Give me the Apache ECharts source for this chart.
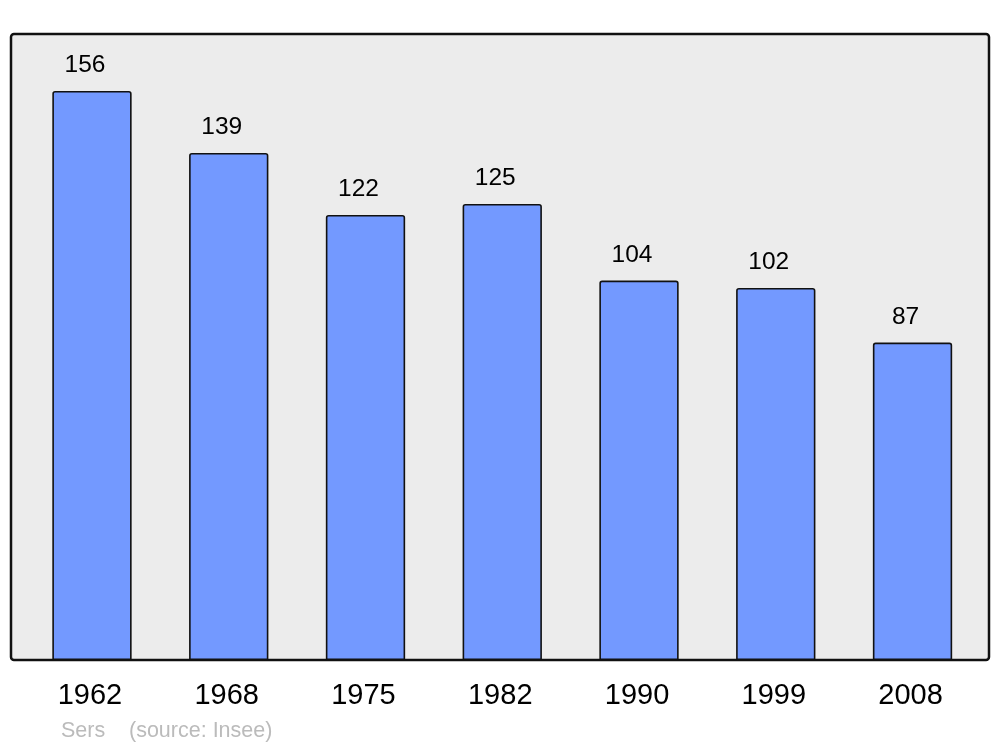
<!DOCTYPE html>
<html><head><meta charset="utf-8">
<script src="https://cdn.jsdelivr.net/npm/echarts@6/dist/echarts.min.js"></script>
<style>html,body{margin:0;padding:0;background:#fff}#c{width:1000px;height:747px}</style>
</head><body><div id="c"></div>
<script>
const years = ['1962','1968','1975','1982','1990','1999','2008'];
const population = [156,139,122,125,104,102,87];
const commune = 'Sers';
const sourceText = '(source: Insee)';

const chart = echarts.init(document.getElementById('c'), null, {renderer:'canvas'});
chart.setOption({
  animation:false,
  textStyle:{fontFamily:'Liberation Sans, Arial, sans-serif'},
  graphic:[
    {type:'rect', z:0, shape:{x:11,y:34,width:978,height:626,r:3},
     style:{fill:'#ececec', stroke:'#111', lineWidth:2.5}},
    {type:'text', z:5, left:61, top:720, style:{text:commune, fill:'#bbbbbb', font:'21.5px "Liberation Sans", Arial, sans-serif'}},
    {type:'text', z:5, left:129, top:720, style:{text:sourceText, fill:'#bbbbbb', font:'21.5px "Liberation Sans", Arial, sans-serif'}}
  ],
  grid:{left:23.6, right:19.1, top:34, bottom:87, containLabel:false},
  xAxis:{type:'category', data:years,
    axisLine:{show:false}, axisTick:{show:false},
    axisLabel:{fontSize:29, color:'#000', margin:21, padding:[0,4,0,0]}},
  yAxis:{type:'value', min:0, max:171.6, show:false, splitLine:{show:false}},
  series:[{type:'bar', data:population, z:2, barCategoryGap:'42%',
    itemStyle:{color:'#7399ff', borderColor:'#111', borderWidth:1.6, borderRadius:[2,2,0,0]},
    label:{show:true, position:'top', distance:13, offset:[-7,0], fontSize:24.5, color:'#000'}}]
});
</script></body></html>
